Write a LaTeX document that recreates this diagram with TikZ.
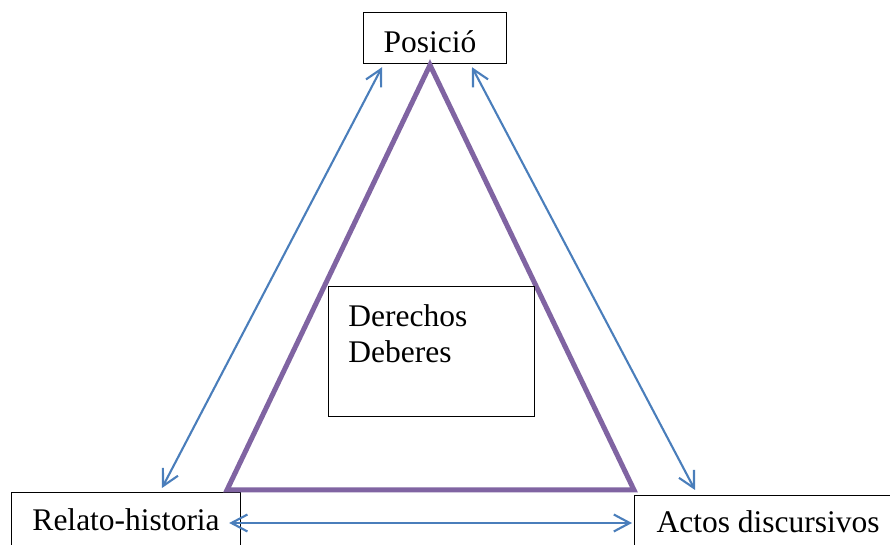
\documentclass[tikz,border=0pt]{standalone}
\usepackage{fontspec}
\setmainfont{Liberation Serif}
\usepackage{xcolor}
\usepackage{tikz}
\usetikzlibrary{calc, arrows.meta}

\definecolor{azul}{HTML}{4A7EBB}
\definecolor{morado}{HTML}{8064A2}

\begin{document}
\begin{tikzpicture}[x=0.5pt, y=-0.5pt,
    >={Straight Barb[length=8pt, width=8.5pt]},
    every node/.style={font=\fontsize{15.75}{18}\selectfont},
    caja/.style={draw=black, line width=0.6pt, rectangle, anchor=north west,
        inner xsep=0pt, inner ysep=2pt},
    enlace/.style={<->, draw=azul, line width=1.05pt}]
    % Marco de la imagen
    \useasboundingbox (0,0) rectangle (890,545);
    \clip (0,0) rectangle (890,545);

    % Cajas
    \node[caja, inner xsep=10pt, text width=51.5pt, align=left,
        text height=18pt, text depth=3.5pt]
        (posicio) at (363,12) {Posició};
    \node[caja, minimum width=114.5pt, text height=17pt, text depth=13pt]
        (relato) at (11,492) {Relato-historia};
    \node[caja, minimum width=133.5pt, text height=16.5pt, text depth=13pt]
        (actos) at (634,495) {Actos discursivos};

    % Triangulo
    \draw[morado, line width=2.5pt] (430,65) -- (634,490) -- (227,490) -- cycle;

    % Caja central
    \node[caja, minimum width=103pt, minimum height=65pt] (dbox) at (328,286) {};
    \node[anchor=north west, align=left, inner sep=0pt]
        (dtexto) at ($(dbox.north west)+(20,18)$) {Derechos\\Deberes};

    % Flechas dobles
    \draw[enlace] ($(posicio.south west)+(19,3)$) -- ($(relato.north west)+(151,-4)$);
    \draw[enlace] ($(posicio.south west)+(109,3)$) -- ($(actos.north west)+(61,-5)$);
    \draw[enlace] ($(relato.north east)+(-12,31)$) -- ($(actos.north west)+(-2,28)$);
\end{tikzpicture}
\end{document}
